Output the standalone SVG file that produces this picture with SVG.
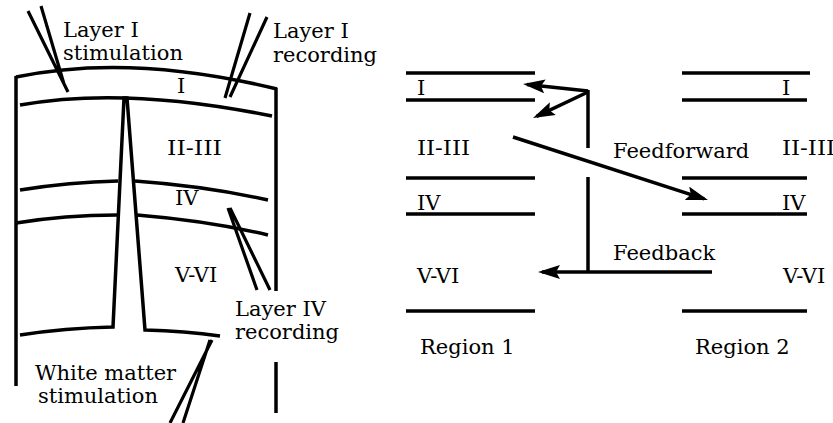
<svg xmlns="http://www.w3.org/2000/svg" width="833" height="423" viewBox="0 0 833 423">
<style>
.ln{fill:none;stroke:#000;stroke-width:3.5;stroke-linecap:butt;stroke-linejoin:miter}
.el{fill:none;stroke:#000;stroke-width:3.2}
text{font-family:"DejaVu Serif","Liberation Serif",serif;font-size:21px;fill:#000}
</style>
<defs>
<marker id="ah" markerUnits="userSpaceOnUse" markerWidth="22" markerHeight="14" refX="18" refY="7" orient="auto">
<path d="M0,0 L22,7 L0,14 L4,7 z" fill="#000"/>
</marker>
</defs>
<rect width="833" height="423" fill="#fff"/>
<g id="cortex">
<path class="ln" d="M16,77 Q130,53 277,89"/>
<path class="ln" d="M20,105 Q125,86 272,116"/>
<path class="ln" d="M16,76 L16,386"/>
<path class="ln" d="M276,88 L276,291"/>
<path class="ln" d="M276,362 L276,413"/>
<path class="ln" d="M20,190 Q70,182 118,181"/>
<path class="ln" d="M135,181 Q205,186 268,200"/>
<path class="ln" d="M16,223 Q65,215 117,215"/>
<path class="ln" d="M137,215 Q210,221 268,235"/>
<path class="ln" d="M20,335 Q65,328 113,327 L124,98 L127,98 L145,330 Q185,331 220,336"/>
<text x="177" y="93">I</text>
<text x="167" y="155" textLength="55" lengthAdjust="spacingAndGlyphs">II-III</text>
<text x="175" y="205">IV</text>
<text x="175" y="282">V-VI</text>
</g>
<g id="layer1-stim">
<path class="el" d="M28,11 L68,92 M41,6 L64,84"/>
<text x="63" y="37">Layer I</text>
<text x="63" y="60">stimulation</text>
</g>
<g id="layer1-rec">
<path class="el" d="M250,13 L225,98 M267,17 L230,97"/>
<text x="273" y="38">Layer I</text>
<text x="273" y="62">recording</text>
</g>
<g id="layer4-rec">
<path class="el" d="M228,208 L257,290 M230,208 L270,290"/>
<text x="235" y="316">Layer IV</text>
<text x="235" y="339">recording</text>
</g>
<g id="wm-stim">
<path class="el" d="M212,340 L170,423 M210,340 L183,423"/>
<text x="35" y="380">White matter</text>
<text x="38" y="403">stimulation</text>
</g>
<g id="region1">
<path class="ln" d="M406,73 L535,73 M406,100 L535,100 M406,178 L535,178 M406,214 L535,214 M406,311 L535,311"/>
<text x="417" y="95">I</text>
<text x="417" y="155" textLength="53" lengthAdjust="spacingAndGlyphs">II-III</text>
<text x="417" y="210">IV</text>
<text x="417" y="283">V-VI</text>
<text x="420" y="354">Region 1</text>
</g>
<g id="region2">
<path class="ln" d="M682,73 L810,73 M682,100 L807,100 M682,178 L807,178 M682,214 L807,214 M682,311 L807,311"/>
<text x="782" y="95">I</text>
<text x="782" y="155" textLength="53" lengthAdjust="spacingAndGlyphs">II-III</text>
<text x="782" y="210">IV</text>
<text x="783" y="283">V-VI</text>
<text x="695" y="354">Region 2</text>
</g>
<g id="connectors">
<path class="ln" d="M588,90 L588,148"/>
<path class="ln" d="M588,177 L588,272"/>
<path class="ln" d="M712,272 L542,272" marker-end="url(#ah)"/>
<path class="ln" d="M588,91 L527,84.4" marker-end="url(#ah)"/>
<path class="ln" d="M588,92 L536.6,116.3" marker-end="url(#ah)"/>
<path class="ln" d="M513,137 L704.2,198.8" marker-end="url(#ah)"/>
<text x="613" y="158">Feedforward</text>
<text x="613" y="260">Feedback</text>
</g>
</svg>
